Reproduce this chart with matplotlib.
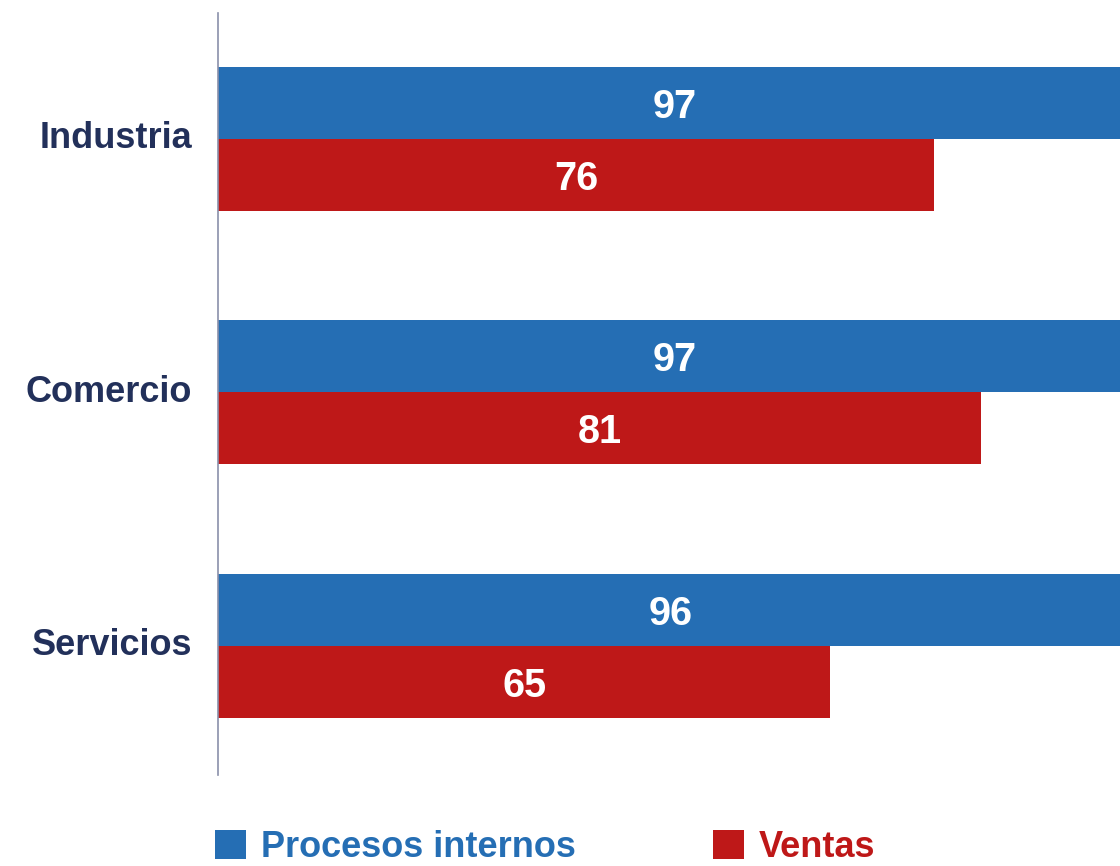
import matplotlib
matplotlib.use("Agg")
import matplotlib.pyplot as plt
from matplotlib.patches import Patch
from matplotlib.transforms import ScaledTranslation
import numpy as np

categories = ["Industria", "Comercio", "Servicios"]
procesos_internos = [97, 97, 96]
ventas = [76, 81, 65]
series_names = ["Procesos internos", "Ventas"]

BLUE = "#256EB4"
RED = "#BE1818"
NAVY = "#22305A"
AXIS = "#8A90AA"

plt.rcParams["font.family"] = ["Liberation Sans", "DejaVu Sans"]
plt.rcParams["font.weight"] = "bold"

fig = plt.figure(figsize=(11.2, 8.66), dpi=100)
ax = fig.add_axes([218 / 1120, 1 - 775 / 866, 1 - 218 / 1120, (775 - 13) / 866])

y = np.arange(len(categories))
h = 0.284
ax.barh(y - h / 2, procesos_internos, height=h, color=BLUE, edgecolor="none")
ax.barh(y + h / 2, ventas, height=h, color=RED, edgecolor="none")

for yi, v in zip(y, procesos_internos):
    ax.text(v / 2, yi - h / 2, str(v), ha="center", va="center_baseline",
            color="white", fontsize=28.5, fontweight="bold")
for yi, v in zip(y, ventas):
    ax.text(v / 2, yi + h / 2, str(v), ha="center", va="center_baseline",
            color="white", fontsize=28.5, fontweight="bold")

ax.set_xlim(0, 95.75)
ax.set_ylim(2.51, -0.497)
ax.set_yticks(y)
ax.set_yticklabels(categories, fontsize=26, fontweight="bold", color=NAVY)
ax.tick_params(axis="y", length=0, pad=18.5)
shift = ScaledTranslation(0, 4 / 100, fig.dpi_scale_trans)
for lbl in ax.get_yticklabels():
    lbl.set_transform(lbl.get_transform() + shift)
ax.set_xticks([])
for s in ["top", "right", "bottom"]:
    ax.spines[s].set_visible(False)
ax.spines["left"].set_color(AXIS)
ax.spines["left"].set_linewidth(1.2)
ax.set_facecolor("none")

handles = [Patch(facecolor=BLUE, edgecolor="none"), Patch(facecolor=RED, edgecolor="none")]
leg = fig.legend(handles, series_names, loc="upper left",
                 bbox_to_anchor=(215 / 1120, 1 - 830 / 866), ncol=2, frameon=False,
                 prop={"size": 26, "weight": "bold"},
                 handlelength=0.85, handleheight=0.85, handletextpad=0.42,
                 columnspacing=3.8, borderpad=0, borderaxespad=0)
for t, c in zip(leg.get_texts(), [BLUE, RED]):
    t.set_color(c)

fig.savefig("out.png", dpi=100)
